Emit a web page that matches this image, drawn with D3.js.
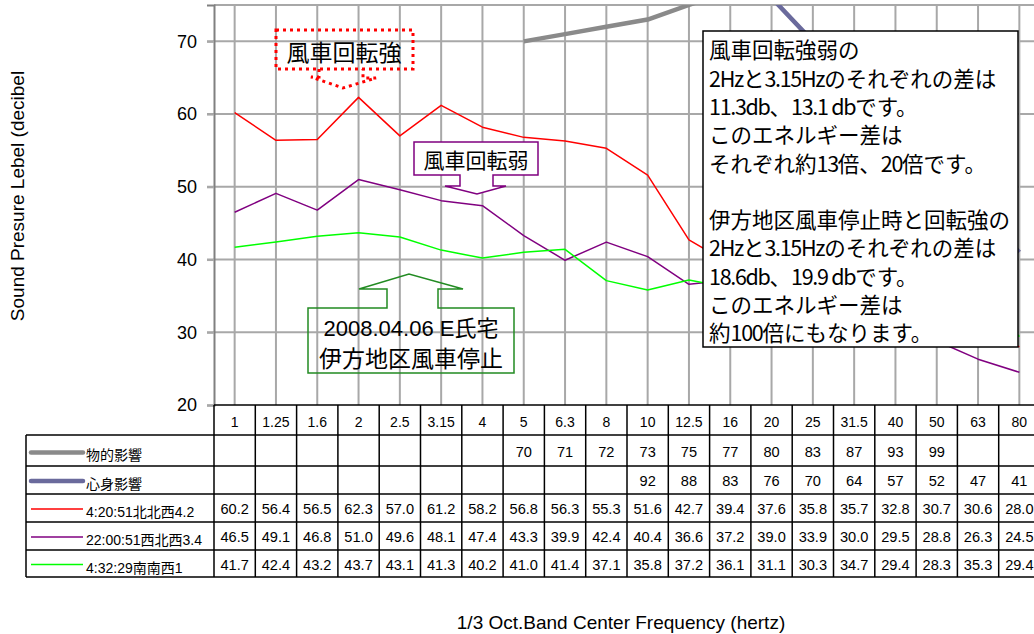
<!DOCTYPE html>
<html>
<head>
<meta charset="utf-8">
<script src="https://cdn.jsdelivr.net/npm/d3@7"></script>
<style>
  body { margin: 0; background: #fff; }
  svg { display: block; }
</style>
</head>
<body>
<svg id="chart" width="1034" height="634"></svg>
<script>
// 1/3 octave band centre frequencies (Hz)
const freqs = ["1","1.25","1.6","2","2.5","3.15","4","5","6.3","8","10","12.5","16","20","25","31.5","40","50","63","80"];

// Reference curves (dB)
const physical = [null,null,null,null,null,null,null,70,71,72,73,75,77,80,83,87,93,99,null,null];
const psycho   = [null,null,null,null,null,null,null,null,null,null,92,88,83,76,70,64,57,52,47,41];

// Measured levels (dB)
const strong  = [60.2,56.4,56.5,62.3,57.0,61.2,58.2,56.8,56.3,55.3,51.6,42.7,39.4,37.6,35.8,35.7,32.8,30.7,30.6,28.0];
const weak    = [46.5,49.1,46.8,51.0,49.6,48.1,47.4,43.3,39.9,42.4,40.4,36.6,37.2,39.0,33.9,30.0,29.5,28.8,26.3,24.5];
const stopped = [41.7,42.4,43.2,43.7,43.1,41.3,40.2,41.0,41.4,37.1,35.8,37.2,36.1,31.1,30.3,34.7,29.4,28.3,35.3,29.4];

const seriesNames  = ["物的影響","心身影響","4:20:51北北西4.2","22:00:51西北西3.4","4:32:29南南西1"];
const seriesColors = ["#8a8a8a","#6a6a9c","#ff0000","#800080","#00ff00"];
const seriesWidths = [4.5,4.5,1.5,1.5,1.5];

const yTicks = [20,30,40,50,60,70];

const noteLines = [
  "風車回転強弱の",
  "2Hzと3.15Hzのそれぞれの差は",
  "11.3db、13.1 dbです。",
  "このエネルギー差は",
  "それぞれ約13倍、20倍です。",
  "",
  "伊方地区風車停止時と回転強の",
  "2Hzと3.15Hzのそれぞれの差は",
  "18.6db、19.9 dbです。",
  "このエネルギー差は",
  "約100倍にもなります。"
];

const allSeries = [physical, psycho, strong, weak, stopped];

const svg = d3.select("#chart");
const plot = { left: 214, top: 5, bottom: 405, right: 214 + 41.3 * freqs.length };
const sansFont = "'Liberation Sans', Arial, 'Noto Sans CJK JP', sans-serif";
const cjkFont = "'Noto Sans CJK JP', 'Liberation Sans', sans-serif";

const x = d3.scaleBand().domain(freqs).range([plot.left, plot.right]).padding(0);
const y = d3.scaleLinear().domain([20, 75]).range([plot.bottom, plot.top]);
const cx = f => x(f) + x.bandwidth() / 2;

svg.append("defs").append("clipPath").attr("id", "plotClip")
  .append("rect").attr("x", plot.left).attr("y", plot.top)
  .attr("width", plot.right - plot.left).attr("height", plot.bottom - plot.top);

// grid
const grid = svg.append("g");
grid.selectAll("line.h").data(yTicks.filter(t => t > 20)).join("line")
  .attr("x1", plot.left - 7).attr("x2", plot.right)
  .attr("y1", d => y(d)).attr("y2", d => y(d))
  .attr("stroke", "#a8a8a8").attr("stroke-width", 2);
grid.selectAll("line.v").data(freqs).join("line")
  .attr("x1", d => cx(d)).attr("x2", d => cx(d))
  .attr("y1", plot.top).attr("y2", plot.bottom)
  .attr("stroke", "#a8a8a8").attr("stroke-width", 2);
grid.append("line").attr("x1", plot.left).attr("x2", plot.right)
  .attr("y1", plot.top).attr("y2", plot.top)
  .attr("stroke", "#a8a8a8").attr("stroke-width", 2);

// y axis
const yAxis = svg.append("g").attr("transform", `translate(${plot.left},0)`)
  .call(d3.axisLeft(y).tickValues(yTicks).tickSize(7).tickPadding(10).tickFormat(d3.format("d")));
yAxis.select(".domain").attr("stroke", "#808080").attr("stroke-width", 2);
yAxis.selectAll(".tick line").attr("stroke", "#a8a8a8").attr("stroke-width", 2);
yAxis.selectAll(".tick text").attr("font-family", sansFont).attr("font-size", 18).attr("fill", "#000");

// series lines
const lineGen = d3.line()
  .defined(d => d.v != null)
  .x(d => cx(d.f)).y(d => y(d.v));
const lines = svg.append("g").attr("clip-path", "url(#plotClip)");
allSeries.forEach((vals, i) => {
  lines.append("path")
    .datum(freqs.map((f, j) => ({ f, v: vals[j] })))
    .attr("d", lineGen)
    .attr("fill", "none")
    .attr("stroke", seriesColors[i])
    .attr("stroke-width", seriesWidths[i])
    .attr("stroke-linejoin", "round");
});

// data table
const headerRow = [405, 435];
const rowEdges = [435, 466, 494, 522, 550, 577];
const tableLeft = 26;
const table = svg.append("g");
const tl = (x1, y1, x2, y2) => table.append("line")
  .attr("x1", x1).attr("y1", y1).attr("x2", x2).attr("y2", y2)
  .attr("stroke", "#000").attr("stroke-width", 1.5);

tl(plot.left, headerRow[0], plot.right, headerRow[0]);
rowEdges.forEach(e => tl(tableLeft, e, plot.right, e));
tl(tableLeft, rowEdges[0], tableLeft, rowEdges[rowEdges.length - 1]);
freqs.forEach(f => tl(x(f), headerRow[0], x(f), rowEdges[rowEdges.length - 1]));
tl(plot.right, headerRow[0], plot.right, rowEdges[rowEdges.length - 1]);

table.selectAll("text.hdr").data(freqs).join("text")
  .attr("x", d => cx(d)).attr("y", (headerRow[0] + headerRow[1]) / 2 + 2)
  .attr("text-anchor", "middle").attr("dominant-baseline", "central")
  .attr("font-family", sansFont).attr("font-size", 14).text(d => d);

allSeries.forEach((vals, i) => {
  const top = rowEdges[i], bot = rowEdges[i + 1];
  const mid = (top + bot) / 2;
  const fmt = i < 2 ? d3.format("d") : d3.format(".1f");
  table.selectAll(null).data(freqs.map((f, j) => ({ f, v: vals[j] })).filter(d => d.v != null))
    .join("text")
    .attr("x", d => cx(d.f)).attr("y", mid + 1)
    .attr("text-anchor", "middle").attr("dominant-baseline", "central")
    .attr("font-family", sansFont).attr("font-size", 14.6)
    .text(d => fmt(d.v));
  // legend key
  const ly = i < 2 ? mid + (i === 0 ? 2 : 1) : mid + 1;
  table.append("line")
    .attr("x1", 31).attr("x2", 83).attr("y1", ly).attr("y2", ly)
    .attr("stroke", seriesColors[i]).attr("stroke-width", seriesWidths[i])
    .attr("stroke-linecap", i < 2 ? "round" : "butt");
  table.append("text")
    .attr("x", 86).attr("y", mid + 4)
    .attr("dominant-baseline", "central")
    .attr("font-family", sansFont).attr("font-size", 14)
    .text(seriesNames[i]);
});

// axis titles
svg.append("text")
  .attr("transform", "translate(17,196) rotate(-90)")
  .attr("text-anchor", "middle").attr("dominant-baseline", "central")
  .attr("font-family", sansFont).attr("font-size", 19)
  .text("Sound Presure Lebel (decibel");
svg.append("text")
  .attr("x", 621).attr("y", 622)
  .attr("text-anchor", "middle").attr("dominant-baseline", "central")
  .attr("font-family", sansFont).attr("font-size", 19)
  .text("1/3 Oct.Band Center Frequency (hertz)");

// callouts
const notes = svg.append("g");

// strong rotation (red dotted)
notes.append("rect").attr("x", 276).attr("y", 30).attr("width", 137).attr("height", 39)
  .attr("fill", "none").attr("stroke", "#ff0000").attr("stroke-width", 3).attr("stroke-dasharray", "3,4");
notes.append("path").attr("d", "M319,69 V77 H311 L343,88 L376,78 H363 V69")
  .attr("fill", "none").attr("stroke", "#ff0000").attr("stroke-width", 3).attr("stroke-dasharray", "3,4");
notes.append("text").attr("x", 344).attr("y", 51)
  .attr("text-anchor", "middle").attr("dominant-baseline", "central")
  .attr("font-family", cjkFont).attr("font-size", 23).text("風車回転強");

// weak rotation (purple)
notes.append("path")
  .attr("d", "M414,142 H538 V175 H493 V186 H506 L477,194 L445,186 H460 V175 H414 Z")
  .attr("fill", "#fff").attr("stroke", "#800080").attr("stroke-width", 1.5);
notes.append("text").attr("x", 476).attr("y", 159)
  .attr("text-anchor", "middle").attr("dominant-baseline", "central")
  .attr("font-family", cjkFont).attr("font-size", 21).text("風車回転弱");

// turbines stopped (green)
notes.append("path")
  .attr("d", "M308,308 H387 V289 H359 L409,274 L463,289 H438 V308 H514 V373 H308 Z")
  .attr("fill", "none").attr("stroke", "#228b22").attr("stroke-width", 1.5);
notes.append("text").attr("x", 411).attr("y", 328)
  .attr("text-anchor", "middle").attr("dominant-baseline", "central")
  .attr("font-family", sansFont).attr("font-size", 22).text("2008.04.06 E氏宅");
notes.append("text").attr("x", 411).attr("y", 357)
  .attr("text-anchor", "middle").attr("dominant-baseline", "central")
  .attr("font-family", cjkFont).attr("font-size", 23).text("伊方地区風車停止");

// explanation box
notes.append("rect").attr("x", 703).attr("y", 31).attr("width", 315).attr("height", 316)
  .attr("fill", "#fff").attr("stroke", "#000").attr("stroke-width", 1.5);
const noteText = notes.selectAll("text.note").data(noteLines).join("text")
  .attr("x", 709).attr("y", (d, i) => 48.3 + i * 28.3)
  .attr("dominant-baseline", "central")
  .attr("font-family", cjkFont).attr("font-size", 21.5);
// Latin runs are set a little tighter than the kana/kanji
noteText.each(function (d) {
  const runs = d.match(/[\x20-\x7e]+|[^\x20-\x7e]+/g) || [];
  d3.select(this).selectAll("tspan").data(runs).join("tspan")
    .attr("letter-spacing", r => /^[\x20-\x7e]/.test(r) ? -1.3 : 0)
    .text(r => r);
});
</script>
</body>
</html>
